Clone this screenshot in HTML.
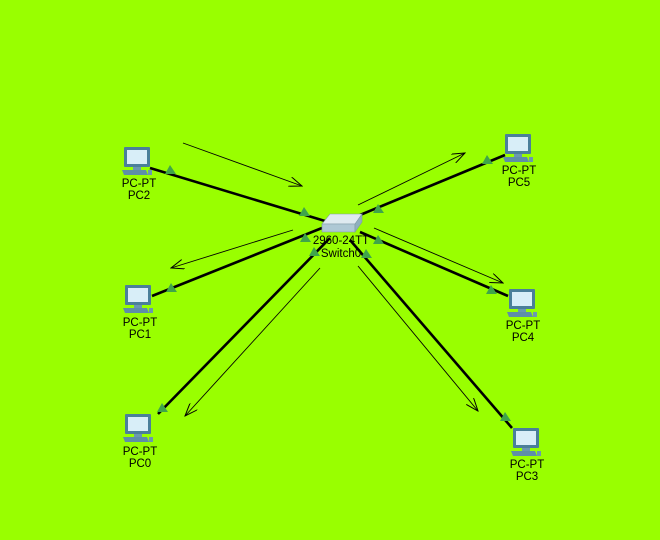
<!DOCTYPE html>
<html><head><style>body{margin:0;background:#99ff00}svg{display:block}</style></head><body>
<svg width="660" height="540" viewBox="0 0 660 540" xmlns="http://www.w3.org/2000/svg" font-family="Liberation Sans, sans-serif" font-size="11.5">
<defs>
<g id="pc">
<rect x="-13" y="-14" width="26" height="20" fill="#4a7f9a" rx="1"/>
<rect x="-10" y="-11" width="20" height="14" fill="#d8eef8"/>
<rect x="-4" y="6" width="8" height="3" fill="#6a98b0"/>
<polygon points="-15,9 9,9 11,14 -13,14" fill="#5e8ea8"/>
<rect x="11" y="9" width="4" height="5" fill="#6a98b0"/>
</g>
<marker id="ah" markerWidth="14" markerHeight="10" refX="13" refY="5" orient="auto" markerUnits="userSpaceOnUse"><path d="M0,0 L13,5 L0,10" fill="none" stroke="#000" stroke-width="1"/></marker>
</defs>
<g stroke="#000" stroke-width="2.6">
<line x1="150" y1="168" x2="325" y2="221"/>
<line x1="152" y1="296" x2="322" y2="228"/>
<line x1="158" y1="414" x2="330" y2="238"/>
<line x1="505" y1="155" x2="360" y2="215"/>
<line x1="508" y1="296" x2="360" y2="232"/>
<line x1="512" y1="428" x2="350" y2="240"/>
</g>
<g stroke="#000" stroke-width="0.9" marker-end="url(#ah)">
<line x1="183" y1="143" x2="302" y2="186"/>
<line x1="293" y1="230" x2="171" y2="268"/>
<line x1="320" y1="268" x2="185" y2="416"/>
<line x1="358" y1="205" x2="465" y2="153"/>
<line x1="374" y1="228" x2="503" y2="283"/>
<line x1="358" y1="266" x2="478" y2="411"/>
</g>
<g fill="#3fa54a">
<polygon points="170,165 165,174 176,174"/>
<polygon points="304,207 299,216 310,216"/>
<polygon points="171,283 166,292 177,292"/>
<polygon points="305,233 300,242 311,242"/>
<polygon points="162,403 157,412 168,412"/>
<polygon points="314,247 309,256 320,256"/>
<polygon points="487,155 482,164 493,164"/>
<polygon points="378,204 373,213 384,213"/>
<polygon points="491,285 486,294 497,294"/>
<polygon points="378,235 373,244 384,244"/>
<polygon points="505,412 500,421 511,421"/>
<polygon points="366,249 361,258 372,258"/>
</g>
<g stroke="#7f9aa6" stroke-width="0.6">
<polygon points="330,214 362,214 355,224 322,224" fill="#dfeaf0"/>
<polygon points="322,224 355,224 355,232 322,232" fill="#aec8d4"/>
<polygon points="355,224 362,214 362,222 355,232" fill="#8fb0be"/>
</g>
<use href="#pc" x="137" y="161"/>
<use href="#pc" x="138" y="299"/>
<use href="#pc" x="138" y="428"/>
<use href="#pc" x="518" y="148"/>
<use href="#pc" x="522" y="303"/>
<use href="#pc" x="526" y="442"/>
<g fill="#000" text-anchor="middle">
<text x="341" y="244">2960-24TT</text><text x="341" y="257">Switch0</text>
<text x="139" y="187">PC-PT</text><text x="139" y="199">PC2</text>
<text x="140" y="326">PC-PT</text><text x="140" y="338">PC1</text>
<text x="140" y="455">PC-PT</text><text x="140" y="467">PC0</text>
<text x="519" y="174">PC-PT</text><text x="519" y="186">PC5</text>
<text x="523" y="329">PC-PT</text><text x="523" y="341">PC4</text>
<text x="527" y="468">PC-PT</text><text x="527" y="480">PC3</text>
</g>
</svg>
</body></html>
